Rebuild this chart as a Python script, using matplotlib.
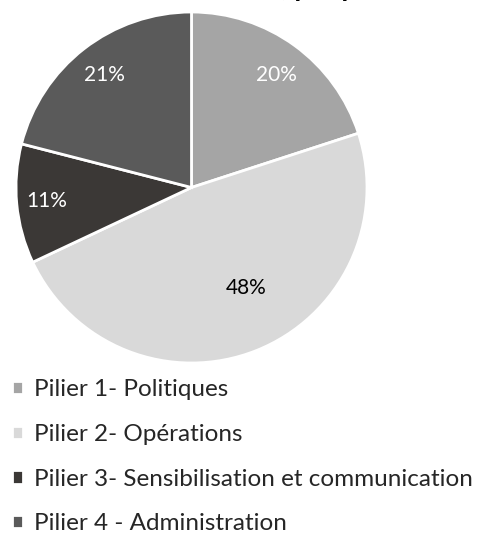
import matplotlib.pyplot as plt
import numpy as np

plt.rcParams['font.family'] = ['Lato', 'DejaVu Sans']

# data
piliers = ["Pilier 1- Politiques", "Pilier 2- Opérations",
           "Pilier 3- Sensibilisation et communication", "Pilier 4 - Administration"]
parts = [20, 48, 11, 21]
colors = ["#a5a5a5", "#d9d9d9", "#3b3836", "#5a5a5a"]
label_colors = ["white", "black", "white", "white"]
label_dist = [0.80, 0.65, 0.83, 0.81]
label_shift = [-1, 7, 0, 0]  # degrees, nudges like Excel's best fit

W, H = 479, 539
fig = plt.figure(figsize=(W / 100, H / 100), dpi=100)

# pie area: centre (191.5, 187.5) px from top, radius 175.5 px
cx, cy, r = 191.5, 187.5, 175.5
ax = fig.add_axes([(cx - r) / W, (H - cy - r) / H, 2 * r / W, 2 * r / H])
wedges, texts, autotexts = ax.pie(
    parts, colors=colors, startangle=90, counterclock=False,
    autopct="%d%%", wedgeprops=dict(edgecolor="white", linewidth=2),
    textprops=dict(fontsize=15), radius=1,
)
ax.set_xlim(-1, 1)
ax.set_ylim(-1, 1)

for w, t, c, d, s in zip(wedges, autotexts, label_colors, label_dist, label_shift):
    ang = np.deg2rad((w.theta1 + w.theta2) / 2 + s)
    t.set_position((d * np.cos(ang), d * np.sin(ang)))
    t.set_color(c)

# title sits above the top edge: only the descenders of ", par pilier" show
fig.text(281 / W, 1 + 4 / H, ", par pilier", ha="left",
         va="baseline", fontsize=20, fontweight="bold")

ax.legend(wedges, piliers, loc="upper left", bbox_to_anchor=(12 / W, 1 - 379 / H),
          bbox_transform=fig.transFigure, frameon=False, fontsize=17.5,
          handlelength=0.45, handleheight=0.45, handletextpad=0.45,
          labelspacing=0.98, labelcolor="#262626", borderaxespad=0, borderpad=0)

fig.savefig("out.png", dpi=100)
